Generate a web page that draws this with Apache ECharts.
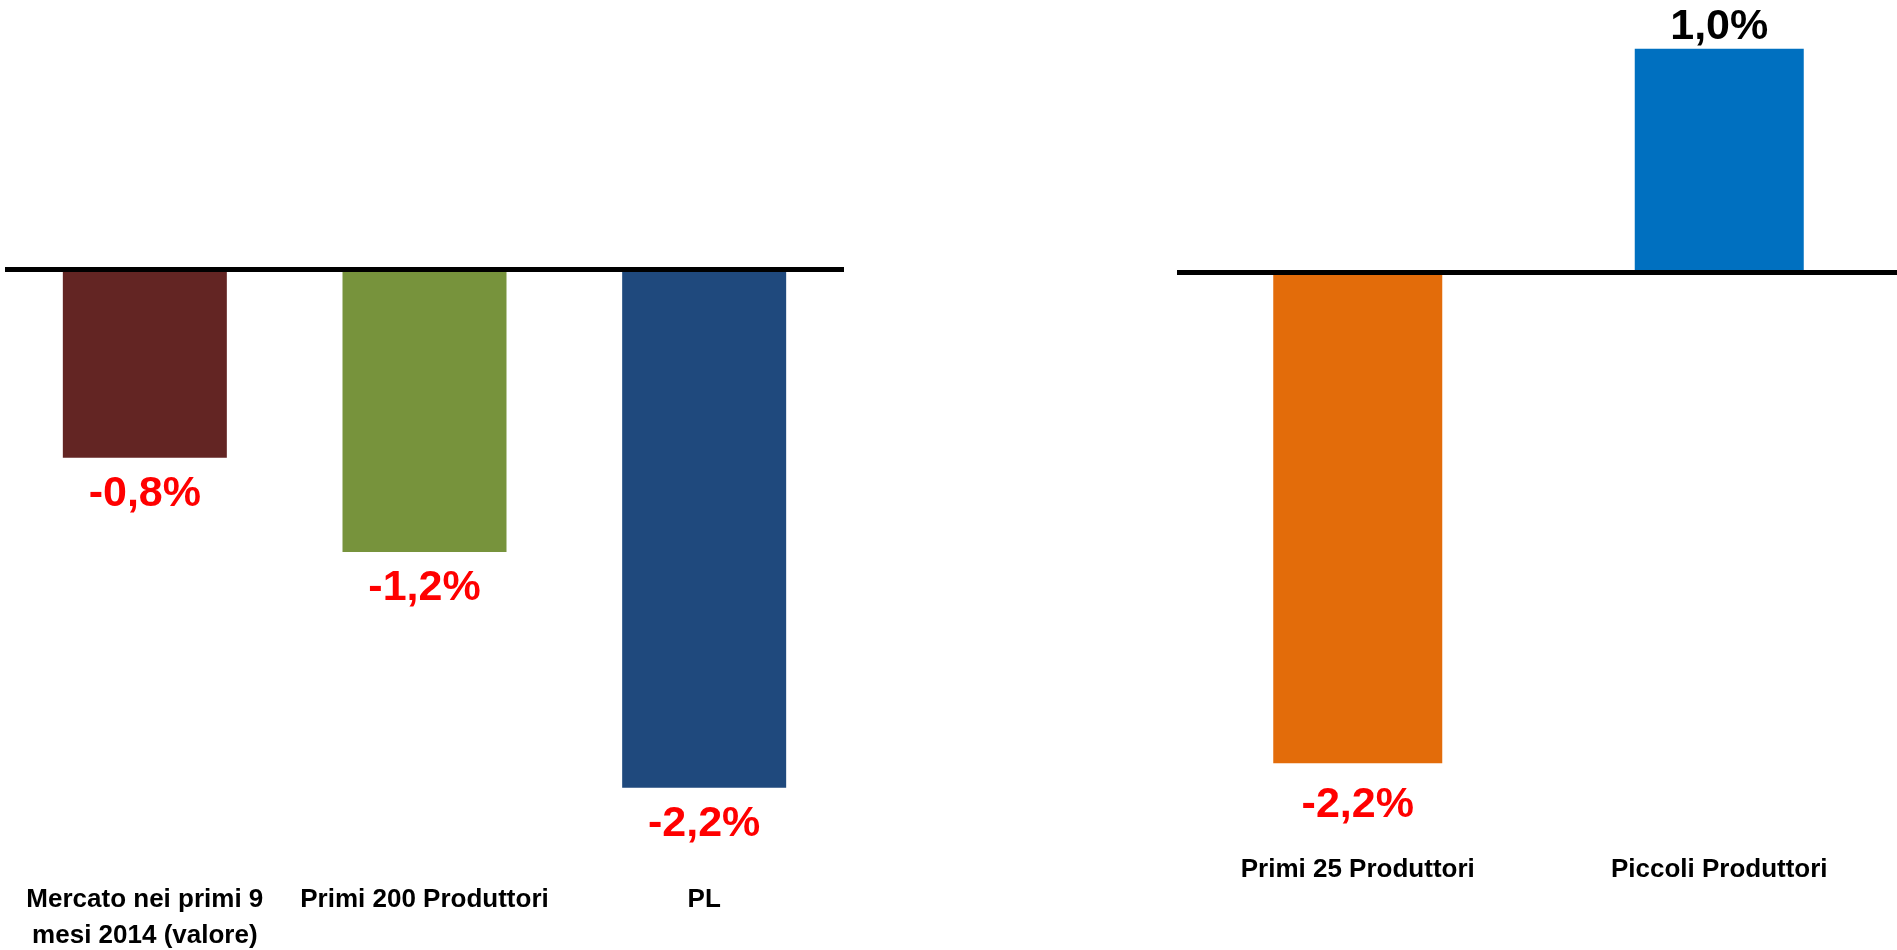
<!DOCTYPE html>
<html>
<head>
<meta charset="utf-8">
<script src="https://cdn.jsdelivr.net/npm/echarts@6/dist/echarts.min.js"></script>
<style>
  html, body { margin: 0; padding: 0; background: #ffffff; }
  #chart { width: 1897px; height: 950px; }
</style>
</head>
<body>
<div id="chart"></div>
<script>
// Variazioni percentuali (%), pannello sinistro
const leftCategories = ['Mercato nei primi 9\nmesi 2014 (valore)', 'Primi 200 Produttori', 'PL'];
const leftValues = [-0.8, -1.2, -2.2];
const leftColors = ['#632523', '#77933C', '#1F497D'];

// Variazioni percentuali (%), pannello destro
const rightCategories = ['Primi 25 Produttori', 'Piccoli Produttori'];
const rightValues = [-2.2, 1.0];
const rightColors = ['#E36C0A', '#0070C0'];

const FONT = "'Liberation Sans Narrow', 'Arial Narrow', 'Liberation Sans', sans-serif";

function fmt(v) {
  return v.toFixed(1).replace('.', ',') + '%';
}

function barItems(values, colors, negDistance, posDistance) {
  return values.map((v, i) => ({
    value: v,
    itemStyle: { color: colors[i] },
    label: {
      position: v < 0 ? 'bottom' : 'top',
      distance: v < 0 ? negDistance : posDistance,
      color: v < 0 ? '#FF0000' : '#000000'
    }
  }));
}

const valueLabel = {
  show: true,
  fontFamily: FONT,
  fontWeight: 'bold',
  fontSize: 43,
  formatter: p => fmt(p.value)
};

const categoryLabel = (margin) => ({
  show: true,
  interval: 0,
  margin: margin,
  fontFamily: FONT,
  fontWeight: 'bold',
  fontSize: 26,
  lineHeight: 36,
  color: '#000000'
});

const zeroLine = { show: true, onZero: true, lineStyle: { color: '#000000', width: 5, cap: 'butt' } };

const chart = echarts.init(document.getElementById('chart'), null, { renderer: 'canvas' });

chart.setOption({
  animation: false,
  backgroundColor: '#ffffff',
  grid: [
    { left: 5, width: 839, top: 33.2, height: 825.3, containLabel: false, outerBoundsMode: 'none' },
    { left: 1177, width: 723, top: 48.7, height: 781.6, containLabel: false, outerBoundsMode: 'none' }
  ],
  xAxis: [
    // linea dello zero, pannello sinistro
    { type: 'category', gridIndex: 0, data: leftCategories, z: 5,
      axisLine: zeroLine, axisTick: { show: false }, axisLabel: { show: false } },
    // etichette delle categorie, pannello sinistro
    { type: 'category', gridIndex: 0, data: leftCategories, position: 'bottom',
      axisLine: { show: false, onZero: false }, axisTick: { show: false },
      axisLabel: categoryLabel(23) },
    // linea dello zero, pannello destro
    { type: 'category', gridIndex: 1, data: rightCategories, z: 5,
      axisLine: zeroLine, axisTick: { show: false }, axisLabel: { show: false } },
    // etichette delle categorie, pannello destro
    { type: 'category', gridIndex: 1, data: rightCategories, position: 'bottom',
      axisLine: { show: false, onZero: false }, axisTick: { show: false },
      axisLabel: categoryLabel(22) }
  ],
  yAxis: [
    { type: 'value', gridIndex: 0, min: -2.5, max: 1, show: false, splitLine: { show: false } },
    { type: 'value', gridIndex: 1, min: -2.5, max: 1, show: false, splitLine: { show: false } }
  ],
  series: [
    {
      type: 'bar', xAxisIndex: 1, yAxisIndex: 0,
      barWidth: 164,
      label: valueLabel,
      data: barItems(leftValues, leftColors, 15, 0)
    },
    {
      type: 'bar', xAxisIndex: 3, yAxisIndex: 1,
      barWidth: 169,
      label: valueLabel,
      data: barItems(rightValues, rightColors, 20, 0)
    }
  ]
});
</script>
</body>
</html>
